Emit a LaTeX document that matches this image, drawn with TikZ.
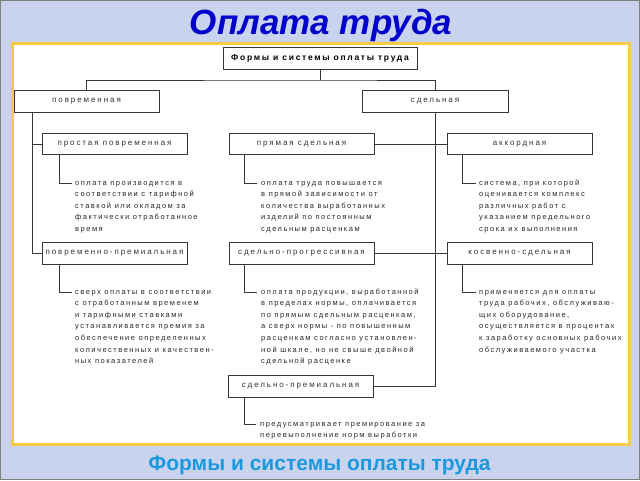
\documentclass[tikz,border=0pt]{standalone}
\usepackage{fontspec}
\setmainfont{Liberation Sans}
\newfontfamily\descfont[LetterSpace=20]{Liberation Sans}
\newfontfamily\lblfont[LetterSpace=24]{Liberation Sans}
\newfontfamily\topfont[LetterSpace=20]{Liberation Sans}
\definecolor{bgc}{RGB}{202,211,238}
\definecolor{framec}{RGB}{243,204,72}
\definecolor{titlec}{RGB}{0,0,205}
\definecolor{subc}{RGB}{28,152,222}
\definecolor{linec}{RGB}{55,55,55}
\definecolor{lblc}{RGB}{50,50,50}
\definecolor{descc}{RGB}{40,40,40}
\tikzset{
  boxnode/.style={draw=linec, line width=0.8pt, fill=white, inner sep=0pt,
    minimum width=145pt, minimum height=21.5pt, text=lblc,
    font=\lblfont\fontsize{8}{9}\selectfont},
  topnode/.style={boxnode, minimum width=194pt, minimum height=22pt, text=black,
    font=\topfont\bfseries\fontsize{8.5}{9}\selectfont},
  descnode/.style={anchor=north west, inner sep=0pt, align=left, text=descc,
    font=\descfont\fontsize{7.5}{11.6}\selectfont},
  conn/.style={draw=linec, line width=0.8pt}
}
\newcommand{\fl}{\rule{0pt}{5.5pt}}
\begin{document}
\begin{tikzpicture}[x=1pt,y=-1pt]
\useasboundingbox (0,0) rectangle (640,480);
\fill[bgc] (0,0) rectangle (640,480);
\draw[gray, line width=1pt] (0.5,0.5) rectangle (639.5,479.5);
\draw[framec, line width=3pt, fill=white] (12,43) rectangle (629,444);

\node[text=titlec, anchor=base, font=\bfseries\itshape\fontsize{35}{38}\selectfont] (title) at (321,34) {Оплата труда};
\node[text=subc, anchor=base, font=\bfseries\fontsize{21}{23}\selectfont] (subtitle) at (319.5,470) {Формы и системы оплаты труда};

\node[topnode] (top) at (320,58) {Формы и системы оплаты труда};
\node[boxnode] (pv) at (86.5,101.5) {повременная};
\node[boxnode, minimum width=146pt] (sd) at (435,101.5) {сдельная};

\node[boxnode] (b1) at (114.5,144) {простая повременная};
\node[boxnode] (b2) at (114.5,253.5) {повременно-премиальная};
\node[boxnode] (m1) at (301.5,144) {прямая сдельная};
\node[boxnode] (m2) at (301.5,253.5) {сдельно-прогрессивная};
\node[boxnode] (m3) at (300.5,386.5) {сдельно-премиальная};
\node[boxnode] (r1) at (519.5,144) {аккордная};
\node[boxnode] (r2) at (519.5,253.5) {косвенно-сдельная};

% top tree
\coordinate (hb) at (320,80);
\coordinate (lsp) at (32,0);
\draw[conn] (top.south) -- (hb);
\draw[conn] (pv.north) |- (hb) -| (sd.north);
\draw[conn] (pv.south -| lsp) |- (b2.west);
\draw[conn] (b1.west) -- (b1.west -| lsp);
\draw[conn] (sd.south) |- (m3.east);
\draw[conn] (m1.east) -- (r1.west);
\draw[conn] (m2.east) -- (r2.west);

% description texts
\node[descnode] (t1) at (75,179.3) {\fl оплата производится в\\соответствии с тарифной\\ставкой или окладом за\\фактически отработанное\\время};
\node[descnode] (t2) at (75,288.3) {\fl сверх оплаты в соответствии\\с отработанным временем\\и тарифными ставками\\устанавливается премия за\\обеспечение определенных\\количественных и качествен-\\ных показателей};
\node[descnode] (t3) at (261,179.3) {\fl оплата труда повышается\\в прямой зависимости от\\количества выработанных\\изделий по постоянным\\сдельным расценкам};
\node[descnode] (t4) at (261,288.3) {\fl оплата продукции, выработанной\\в пределах нормы, оплачивается\\по прямым сдельным расценкам,\\а сверх нормы - по повышенным\\расценкам согласно установлен-\\ной шкале, но не свыше двойной\\сдельной расценке};
\node[descnode] (t5) at (260,420.3) {\fl предусматривает премирование за\\перевыполнение норм выработки};
\node[descnode] (t6) at (479,179.3) {\fl система, при которой\\оценивается комплекс\\различных работ с\\указанием предельного\\срока их выполнения};
\node[descnode] (t7) at (479,288.3) {\fl применяется для оплаты\\труда рабочих, обслуживаю-\\щих оборудование,\\осуществляется в процентах\\к заработку основных рабочих\\обслуживаемого участка};

% hooks
\coordinate (h1) at (72,183);
\coordinate (h2) at (72,292);
\coordinate (h3) at (257,183);
\coordinate (h4) at (257,292);
\coordinate (h5) at (256,424);
\coordinate (h6) at (476,183);
\coordinate (h7) at (476,292);
\draw[conn] ([xshift=18pt]b1.south west) |- (h1);
\draw[conn] ([xshift=18pt]b2.south west) |- (h2);
\draw[conn] ([xshift=16pt]m1.south west) |- (h3);
\draw[conn] ([xshift=16pt]m2.south west) |- (h4);
\draw[conn] ([xshift=17pt]m3.south west) |- (h5);
\draw[conn] ([xshift=16pt]r1.south west) |- (h6);
\draw[conn] ([xshift=16pt]r2.south west) |- (h7);
\end{tikzpicture}
\end{document}
